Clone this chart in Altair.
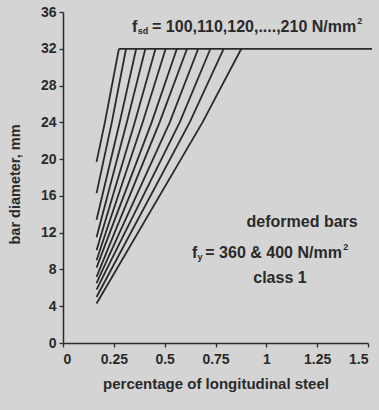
import altair as alt
import pandas as pd

# Data
fsd = [100, 110, 120, 130, 140, 150, 160, 170, 180, 190, 200, 210]
start_x = [0.165] * 12
start_y = [19.7, 16.3, 13.4, 11.5, 10.1, 9.0, 8.2, 7.2, 6.5, 5.8, 5.0, 4.3]
mid_y = [24] * 12
mid_x = [0.206, 0.240, 0.279, 0.314, 0.353, 0.392, 0.436, 0.475, 0.525, 0.574, 0.623, 0.686]
top_y = [32] * 12
top_x = [0.275, 0.31, 0.36, 0.405, 0.455, 0.505, 0.56, 0.61, 0.665, 0.725, 0.79, 0.877]
cap_x = [0.275, 1.52]
cap_y = [32, 32]
x_ticks = [0, 0.25, 0.5, 0.75, 1, 1.25, 1.5]
y_ticks = [0, 4, 8, 12, 16, 20, 24, 28, 32, 36]

rows = []
for i, f in enumerate(fsd):
    rows.append({"s": str(f), "o": 0, "x": start_x[i], "y": start_y[i]})
    rows.append({"s": str(f), "o": 1, "x": mid_x[i], "y": mid_y[i]})
    rows.append({"s": str(f), "o": 2, "x": top_x[i], "y": top_y[i]})
for j in range(len(cap_x)):
    rows.append({"s": "cap", "o": j, "x": cap_x[j], "y": cap_y[j]})
df = pd.DataFrame(rows)

INK = "#2a2a2a"
FONT = "Liberation Sans"

xs = alt.Scale(domain=[0, 1.5], nice=False, zero=False)
ys = alt.Scale(domain=[0, 36], nice=False)

x_axis = alt.Axis(values=x_ticks, format=".2~f", title="percentage of longitudinal steel",
                  titleY=40, titleBaseline="middle", titleFontSize=15,
                  labelPadding=5, labelOverlap=False)
y_axis = alt.Axis(values=y_ticks, title="bar diameter, mm",
                  titleX=-48, titleY=172, titleAngle=-90, titleAlign="center",
                  titleBaseline="middle", titleFontSize=14.5, labelPadding=3,
                  labelOverlap=False)

lines = alt.Chart(df).mark_line(color=INK, strokeWidth=1.8, clip=False).encode(
    x=alt.X("x:Q", scale=xs, axis=x_axis),
    y=alt.Y("y:Q", scale=ys, axis=y_axis),
    detail="s:N",
    order="o:Q",
)

ann = pd.DataFrame([
    {"t": "f", "x": 0.339, "y": 34.4, "fs": 16, "a": "left"},
    {"t": "sd", "x": 0.368, "y": 33.9, "fs": 9, "a": "left"},
    {"t": "= 100,110,120,....,210 N/mm", "x": 0.438, "y": 34.4, "fs": 16, "a": "left"},
    {"t": "2", "x": 1.447, "y": 35.0, "fs": 9, "a": "left"},
    {"t": "deformed bars", "x": 1.176, "y": 13.2, "fs": 16, "a": "center"},
    {"t": "f", "x": 0.635, "y": 9.8, "fs": 16, "a": "left"},
    {"t": "y", "x": 0.662, "y": 9.3, "fs": 9, "a": "left"},
    {"t": "= 360 & 400 N/mm", "x": 0.70, "y": 9.8, "fs": 16, "a": "left"},
    {"t": "2", "x": 1.378, "y": 10.45, "fs": 9, "a": "left"},
    {"t": "class 1", "x": 1.067, "y": 7.07, "fs": 16, "a": "center"},
])

def txt(sub, align):
    return alt.Chart(sub).mark_text(font=FONT, fontWeight="bold", color=INK,
                                    align=align, baseline="middle").encode(
        x=alt.X("x:Q", scale=xs, axis=x_axis), y=alt.Y("y:Q", scale=ys, axis=y_axis),
        text="t:N",
        size=alt.Size("fs:Q", scale=None, legend=None))

texts = txt(ann[ann.a == "left"], "left") + txt(ann[ann.a == "center"], "center")

chart = (lines + texts).properties(
    width=305, height=331,
    padding={"left": 63, "top": 12, "right": 11, "bottom": 67},
    autosize=alt.AutoSizeParams(type="none"),
    background="#d4d4d4",
).configure_view(stroke=None).configure_axis(
    grid=False, domainColor=INK, domainWidth=1.5, tickColor=INK, tickWidth=1.3,
    tickSize=4, labelFont=FONT, labelFontWeight="bold", labelFontSize=14,
    labelColor=INK, titleFont=FONT, titleFontWeight="bold", titleColor=INK,
)

chart.save("out.html", embed_options={"renderer": "svg", "actions": False})
